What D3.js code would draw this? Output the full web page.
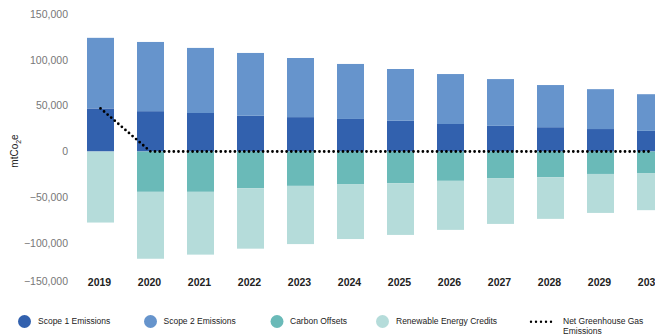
<!DOCTYPE html>
<html>
<head>
<meta charset="utf-8">
<script src="https://cdn.jsdelivr.net/npm/d3@7"></script>
<style>
  body { margin: 0; background: #fff; }
  svg { font-family: "Liberation Sans", Arial, sans-serif; display: block; }
  .tick-label { fill: #777; font-size: 10.5px; }
  .year-label { fill: #222; font-size: 10.5px; font-weight: bold; }
  .legend text { fill: #222; font-size: 8.5px; }
</style>
</head>
<body>
<div id="chart"></div>
<script>
var years = ["2019", "2020", "2021", "2022", "2023", "2024", "2025", "2026", "2027", "2028", "2029", "2030"];
var scope1 = [47000, 44000, 42000, 39000, 37500, 35500, 33500, 30000, 28000, 26500, 24500, 22500];
var scope2 = [77000, 75500, 71000, 68500, 64500, 60000, 56500, 54500, 51000, 46000, 43500, 40000];
var offsets = [0, -44000, -44000, -40000, -37500, -35500, -34500, -32000, -29000, -28000, -24500, -23500];
var recs = [-77500, -73000, -68500, -66000, -63500, -60000, -56500, -53500, -50000, -45500, -42500, -40500];
var netEmissions = [47000, 0, 0, 0, 0, 0, 0, 0, 0, 0, 0, 0];
var yTicks = [150000, 100000, 50000, 0, -50000, -100000, -150000];

var colors = {
    scope1: "#3261ae",
    scope2: "#6694cc",
    offsets: "#6abab8",
    recs: "#b5dcda"
};

var width = 655, height = 335;

var svg = d3.select("#chart").append("svg")
    .attr("width", width)
    .attr("height", height);

// the plot runs past the right edge, 2030 gets cut off like in the original
var x = d3.scaleBand().domain(years).range([75.5, 675.5])
    .paddingInner(0.46).paddingOuter(0.23);
var y = d3.scaleLinear().domain([-150000, 150000]).range([289, 14]);
var plotBottom = 281;

var fmt = d3.format(",");

// y tick labels
svg.append("g").selectAll("text")
    .data(yTicks)
    .join("text")
    .attr("class", "tick-label")
    .attr("x", 68)
    .attr("y", function (d) { return Math.min(y(d), plotBottom); })
    .attr("dy", "0.35em")
    .attr("text-anchor", "end")
    .text(function (d) { return fmt(d); });

// axis title
var title = svg.append("text")
    .attr("transform", "translate(18,151) rotate(-90)")
    .attr("text-anchor", "middle")
    .style("font-size", "10px")
    .style("fill", "#222");
title.append("tspan").text("mtCo");
title.append("tspan").attr("dy", 2.5).style("font-size", "7px").text("2");
title.append("tspan").attr("dy", -2.5).text("e");

// stacks
var rows = years.map(function (yr, i) {
    return { year: yr, scope1: scope1[i], scope2: scope2[i], offsets: offsets[i], recs: recs[i] };
});

var segments = [];
rows.forEach(function (r) {
    segments.push({ year: r.year, y0: 0, y1: r.scope1, key: "scope1" });
    segments.push({ year: r.year, y0: r.scope1, y1: r.scope1 + r.scope2, key: "scope2" });
    segments.push({ year: r.year, y0: 0, y1: r.offsets, key: "offsets" });
    segments.push({ year: r.year, y0: r.offsets, y1: r.offsets + r.recs, key: "recs" });
});

svg.append("g").selectAll("rect")
    .data(segments.filter(function (d) { return d.y1 !== d.y0; }))
    .join("rect")
    .attr("x", function (d) { return x(d.year); })
    .attr("width", x.bandwidth())
    .attr("y", function (d) { return y(Math.max(d.y0, d.y1)); })
    .attr("height", function (d) { return Math.abs(y(d.y0) - y(d.y1)); })
    .attr("fill", function (d) { return colors[d.key]; });

// net line
var line = d3.line()
    .x(function (d, i) { return x(years[i]) + x.bandwidth() / 2; })
    .y(function (d) { return y(d); });

svg.append("path")
    .attr("d", line(netEmissions))
    .attr("fill", "none")
    .attr("stroke", "#000")
    .attr("stroke-width", 2.8)
    .attr("stroke-linecap", "round")
    .attr("stroke-dasharray", "0 4.7");

// year labels
svg.append("g").selectAll("text")
    .data(years)
    .join("text")
    .attr("class", "year-label")
    .attr("x", function (d) { return x(d) + x.bandwidth() / 2 - 1; })
    .attr("y", 286)
    .attr("text-anchor", "middle")
    .text(function (d) { return d; });

// legend
var legendItems = [
    { label: "Scope 1 Emissions", key: "scope1", cx: 24.5, tx: 38 },
    { label: "Scope 2 Emissions", key: "scope2", cx: 150.5, tx: 163.5 },
    { label: "Carbon Offsets", key: "offsets", cx: 277, tx: 290 },
    { label: "Renewable Energy Credits", key: "recs", cx: 382.5, tx: 396 }
];

var legend = svg.append("g").attr("class", "legend");

var items = legend.selectAll("g")
    .data(legendItems)
    .join("g");
items.append("circle")
    .attr("cx", function (d) { return d.cx; })
    .attr("cy", 321.5)
    .attr("r", 6.5)
    .attr("fill", function (d) { return colors[d.key]; });
items.append("text")
    .attr("x", function (d) { return d.tx; })
    .attr("y", 324)
    .text(function (d) { return d.label; });

legend.append("line")
    .attr("x1", 531).attr("x2", 556)
    .attr("y1", 321.7).attr("y2", 321.7)
    .attr("stroke", "#000")
    .attr("stroke-width", 2.4)
    .attr("stroke-linecap", "round")
    .attr("stroke-dasharray", "0 5");

var netText = legend.append("text").attr("x", 563).attr("y", 324);
netText.append("tspan").text("Net Greenhouse Gas");
netText.append("tspan").attr("x", 563).attr("dy", 9.7).text("Emissions");
</script>
</body>
</html>
